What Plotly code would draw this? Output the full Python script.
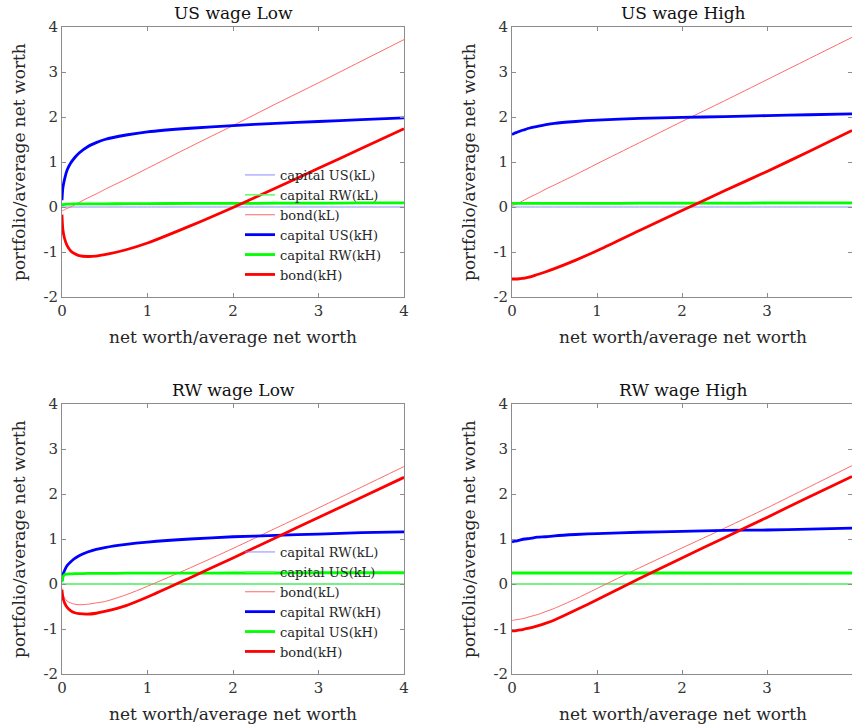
import plotly.graph_objects as go

# Net worth / average net worth grid shared by every curve
NW = [0, 0.01, 0.03, 0.06, 0.1, 0.15, 0.2, 0.3, 0.4, 0.5, 0.75, 1, 1.5, 2, 2.5, 3, 3.5, 4]

# ---- US wage Low ----
usL_capUS_kL = [0.0] * 18
usL_capRW_kL = [0.03, 0.05, 0.06, 0.07, 0.07, 0.07, 0.07, 0.07, 0.07, 0.07, 0.07, 0.075, 0.075, 0.08, 0.08, 0.08, 0.085, 0.085]
usL_bond_kL = [-0.09, -0.08, -0.06, -0.03, 0.0, 0.05, 0.10, 0.20, 0.29, 0.39, 0.62, 0.86, 1.34, 1.81, 2.29, 2.76, 3.24, 3.72]
usL_capUS_kH = [0.15, 0.42, 0.62, 0.82, 0.97, 1.10, 1.20, 1.34, 1.43, 1.50, 1.60, 1.67, 1.75, 1.81, 1.86, 1.90, 1.94, 1.98]
usL_capRW_kH = [0.03, 0.05, 0.06, 0.065, 0.065, 0.07, 0.07, 0.07, 0.07, 0.07, 0.075, 0.075, 0.08, 0.08, 0.085, 0.085, 0.09, 0.09]
usL_bond_kH = [-0.17, -0.50, -0.70, -0.86, -0.97, -1.04, -1.08, -1.10, -1.09, -1.06, -0.95, -0.80, -0.42, -0.01, 0.42, 0.86, 1.30, 1.74]

# ---- US wage High ----
usH_capUS_kL = [0.0] * 18
usH_capRW_kL = [0.08] * 18
usH_bond_kL = [0.02, 0.03, 0.05, 0.08, 0.11, 0.16, 0.21, 0.30, 0.40, 0.49, 0.72, 0.96, 1.43, 1.90, 2.36, 2.83, 3.30, 3.77]
usH_capUS_kH = [1.61, 1.62, 1.64, 1.66, 1.69, 1.72, 1.75, 1.79, 1.83, 1.86, 1.90, 1.93, 1.97, 1.99, 2.01, 2.03, 2.05, 2.07]
usH_capRW_kH = [0.08, 0.08, 0.08, 0.08, 0.08, 0.08, 0.08, 0.08, 0.08, 0.08, 0.08, 0.08, 0.085, 0.085, 0.085, 0.09, 0.09, 0.09]
usH_bond_kH = [-1.60, -1.60, -1.60, -1.60, -1.59, -1.58, -1.56, -1.50, -1.44, -1.37, -1.18, -0.97, -0.52, -0.08, 0.36, 0.79, 1.24, 1.70]

# ---- RW wage Low ----
rwL_capRW_kL = [0.0] * 18
rwL_capUS_kL = [0.0] * 18
rwL_bond_kL = [-0.10, -0.22, -0.31, -0.38, -0.42, -0.45, -0.46, -0.45, -0.42, -0.39, -0.24, -0.05, 0.36, 0.79, 1.24, 1.69, 2.15, 2.61]
rwL_capRW_kH = [0.07, 0.20, 0.30, 0.41, 0.49, 0.57, 0.63, 0.71, 0.77, 0.81, 0.88, 0.93, 1.00, 1.05, 1.08, 1.11, 1.14, 1.16]
rwL_capUS_kH = [0.04, 0.15, 0.21, 0.22, 0.225, 0.23, 0.23, 0.235, 0.235, 0.235, 0.24, 0.24, 0.24, 0.245, 0.245, 0.25, 0.25, 0.25]
rwL_bond_kH = [-0.13, -0.30, -0.42, -0.52, -0.59, -0.64, -0.66, -0.67, -0.65, -0.61, -0.48, -0.29, 0.14, 0.58, 1.03, 1.48, 1.92, 2.37]

# ---- RW wage High ----
rwH_capRW_kL = [0.0] * 18
rwH_capUS_kL = [0.0] * 18
rwH_bond_kL = [-0.81, -0.81, -0.80, -0.79, -0.78, -0.76, -0.73, -0.68, -0.61, -0.54, -0.33, -0.10, 0.36, 0.80, 1.24, 1.69, 2.16, 2.63]
rwH_capRW_kH = [0.93, 0.94, 0.95, 0.96, 0.98, 1.00, 1.01, 1.04, 1.05, 1.07, 1.10, 1.12, 1.15, 1.17, 1.19, 1.20, 1.22, 1.24]
rwH_capUS_kH = [0.245] * 18
rwH_bond_kH = [-1.04, -1.04, -1.04, -1.03, -1.02, -1.00, -0.98, -0.93, -0.87, -0.80, -0.58, -0.35, 0.12, 0.58, 1.03, 1.48, 1.94, 2.39]

TITLES = ["US wage Low", "US wage High", "RW wage Low", "RW wage High"]
NAMES_US = ["capital US(kL)", "capital RW(kL)", "bond(kL)", "capital US(kH)", "capital RW(kH)", "bond(kH)"]
NAMES_RW = ["capital RW(kL)", "capital US(kL)", "bond(kL)", "capital RW(kH)", "capital US(kH)", "bond(kH)"]
X_TICKS = [0, 1, 2, 3, 4]
Y_TICKS = [-2, -1, 0, 1, 2, 3, 4]
Y_TICK_TEXT = ["-2", "-1", "0", "1", "2", "3", "4"]

# thin (kL) lines are drawn in lighter tints, thick (kH) lines in pure colours
COLORS = ["#8c8cff", "#5cff5c", "#ff6a6a", "#0000ff", "#00ff00", "#ff0000"]
WIDTHS = [1.0, 1.5, 1.0, 2.8, 2.8, 2.8]

W, H = 852, 725
# panel pixel boxes (left, right, top, bottom)
boxes = [(62, 404, 27, 297), (512, 852, 27, 297), (62, 404, 404, 674), (512, 852, 404, 674)]

panels = [
    ([usL_capUS_kL, usL_capRW_kL, usL_bond_kL, usL_capUS_kH, usL_capRW_kH, usL_bond_kH], NAMES_US, "legend"),
    ([usH_capUS_kL, usH_capRW_kL, usH_bond_kL, usH_capUS_kH, usH_capRW_kH, usH_bond_kH], NAMES_US, None),
    ([rwL_capRW_kL, rwL_capUS_kL, rwL_bond_kL, rwL_capRW_kH, rwL_capUS_kH, rwL_bond_kH], NAMES_RW, "legend2"),
    ([rwH_capRW_kL, rwH_capUS_kL, rwH_bond_kL, rwH_capRW_kH, rwH_capUS_kH, rwH_bond_kH], NAMES_RW, None),
]

FONT = "DejaVu Serif"
fig = go.Figure()
layout = dict(
    width=W, height=H, margin=dict(l=0, r=0, t=0, b=0, autoexpand=False),
    paper_bgcolor="white", plot_bgcolor="white",
    font=dict(family=FONT, color="#262626"),
    annotations=[],
)

for i, ((series, names, leg), (l, r, t, b)) in enumerate(zip(panels, boxes)):
    n = i + 1
    xa = "x" if n == 1 else f"x{n}"
    ya = "y" if n == 1 else f"y{n}"
    for s, name, col, w in zip(series, names, COLORS, WIDTHS):
        fig.add_trace(go.Scatter(
            x=NW, y=s, mode="lines", name=name,
            line=dict(color=col, width=w, shape="spline", smoothing=0.8),
            xaxis=xa, yaxis=ya,
            showlegend=leg is not None,
            legend=leg if leg else "legend",
        ))
    axcommon = dict(showline=True, linecolor="#8c8c8c", linewidth=1, mirror="ticks",
                    ticks="inside", ticklen=4, tickcolor="#8c8c8c",
                    showgrid=False, zeroline=False, automargin=False,
                    tickfont=dict(family=FONT, size=15, color="#333333"))
    layout["xaxis" if n == 1 else f"xaxis{n}"] = dict(
        domain=[l / W, r / W], range=[0, 4], tickvals=X_TICKS, anchor=ya, **axcommon)
    layout["yaxis" if n == 1 else f"yaxis{n}"] = dict(
        domain=[1 - b / H, 1 - t / H], range=[-2, 4], tickvals=Y_TICKS,
        ticktext=Y_TICK_TEXT, anchor=xa, **axcommon)

    cx = (l + 171) / W
    layout["annotations"].append(dict(
        text=TITLES[i], x=cx, y=1 - (t - 14) / H, xref="paper", yref="paper",
        showarrow=False, xanchor="center", yanchor="middle",
        font=dict(family=FONT, size=17, color="#111111")))
    layout["annotations"].append(dict(
        text="net worth/average net worth", x=cx, y=1 - (b + 40) / H,
        xref="paper", yref="paper", showarrow=False, xanchor="center", yanchor="middle",
        font=dict(family=FONT, size=17, color="#262626")))
    layout["annotations"].append(dict(
        text="portfolio/average net worth", x=(l - 43) / W, y=1 - ((t + b) / 2) / H,
        xref="paper", yref="paper", showarrow=False, textangle=-90,
        xanchor="center", yanchor="middle",
        font=dict(family=FONT, size=17, color="#262626")))

legend_style = dict(bgcolor="rgba(0,0,0,0)", borderwidth=0,
                    font=dict(family=FONT, size=13, color="#262626"),
                    xanchor="left", yanchor="top", tracegroupgap=0)
layout["legend"] = dict(x=240 / W, y=1 - 160 / H, **legend_style)
layout["legend2"] = dict(x=240 / W, y=1 - 537 / H, **legend_style)

fig.update_layout(**layout)
fig.write_html("out.html")
